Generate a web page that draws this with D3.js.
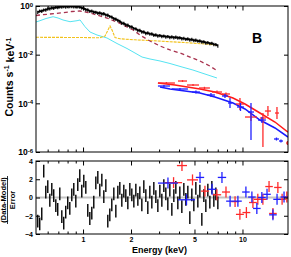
<!DOCTYPE html>
<html>
<head>
<meta charset="utf-8">
<script src="https://cdn.jsdelivr.net/npm/d3@7"></script>
<style>
body { margin: 0; background: #fff; }
text { font-family: "Liberation Sans", Arial, sans-serif; }
</style>
</head>
<body>
<svg width="291" height="257"></svg>
<script>
// ---- data ----
// black spectrum bins (keV) and counts
var binE = [0.520,0.535,0.551,0.567,0.584,0.601,0.619,0.637,0.655,0.675,
  0.694,0.715,0.736,0.757,0.779,0.802,0.826,0.850,0.875,0.901,
  0.927,0.954,0.982,1.011,1.041,1.071,1.103,1.135,1.168,1.203,
  1.238,1.274,1.312,1.350,1.390,1.430,1.472,1.515,1.560,1.606,
  1.653,1.701,1.751,1.802,1.855,1.910,1.966,2.023,2.083,2.144,
  2.207,2.271,2.338,2.406,2.477,2.549,2.624,2.701,2.780,2.862,
  2.946,3.032,3.121,3.212,3.306,3.403,3.503,3.606,3.711,3.820,
  3.932,4.047,4.166,4.288,4.414,4.543,4.676,4.813,4.954,5.100,
  5.249,5.403,5.561,5.724,5.892,6.065,6.243,6.426,6.614,6.808,7.008];
var blackV = [0.556,0.623,0.617,0.685,0.691,0.767,0.774,0.843,0.820,0.893,
  0.884,0.945,0.910,0.963,0.927,0.981,0.954,0.972,0.945,0.963,
  0.936,0.918,0.835,0.797,0.711,0.691,0.611,0.623,0.561,0.556,
  0.511,0.520,0.478,0.483,0.427,0.423,0.370,0.353,0.303,0.290,
  0.256,0.237,0.198,0.193,0.167,0.163,0.142,0.138,0.119,0.116,
  0.100,0.0993,0.0871,0.0862,0.0755,0.0784,0.0707,0.0713,0.0637,0.0649,
  0.0590,0.0613,0.0569,0.0585,0.0542,0.0558,0.0517,0.0542,0.0503,0.0527,
  0.0489,0.0498,0.0457,0.0470,0.0432,0.0449,0.0408,0.0424,0.0386,0.0397,
  0.0364,0.0371,0.0334,0.0341,0.0307,0.0316,0.0288,0.0296,0.0264,0.0262,0.0231];
var blackRelErr = 0.16;
var blackRes = [-2.6,-2.9,-1.8,2.9,0.6,1.2,-0.3,0.9,0.2,-0.9,
  -1.3,0.4,-2.1,-2.8,-1.6,-0.6,-1.2,0.3,0.9,-0.4,
  1.4,2.4,0.7,1.8,1.1,-1.4,-2.3,-1.7,-0.5,1.6,
  2.2,0.8,1.9,0.1,1.3,-2.6,-1.9,-0.8,0.4,-1.5,
  0.6,1.0,-0.3,0.7,0.2,-0.6,0.9,0.3,-0.4,0.8,
  -0.2,0.5,-0.8,1.2,0.2,-1.1,0.6,-0.5,1.0,0.1,
  -0.9,0.7,-0.3,1.3,0.4,-0.7,0.8,-1.3,0.2,1.1,
  -0.6,0.5,-1.0,0.9,-0.2,0.6,-2.2,0.3,-0.8,1.0,
  -0.4,0.7,-2.4,0.2,-0.9,0.8,-0.5,1.1,-0.3,0.4,-0.6];
var blackResErr = 0.7;

// model components
var dashE = [0.507,0.537,0.621,0.749,0.853,0.958,1.075,1.224,1.414,1.633,1.887,2.064,2.277,2.63,3.04,3.51,4.06,4.69,5.41,6.25,6.82];
var dashV = [0.407,0.427,0.469,0.531,0.594,0.623,0.541,0.427,0.321,0.22,0.137,0.103,0.064,0.0364,0.0227,0.0156,0.0117,0.0080,0.0055,0.0034,0.00234];
var cyanE = [0.507,0.537,0.586,0.649,0.697,0.749,0.829,0.917,0.958,1.029,1.106,1.224,1.414,1.633,1.887,2.118,2.344,2.63,3.04,3.51,4.18,4.89,5.82,6.92];
var cyanV = [0.22,0.249,0.306,0.363,0.321,0.266,0.226,0.249,0.266,0.141,0.0854,0.0643,0.0484,0.0288,0.0179,0.0117,0.0080,0.00664,0.0055,0.00433,0.00311,0.00234,0.0016,0.0011];
var lineE = [0.507,0.717,0.958,1.278,1.374,1.434,1.477,1.52,1.587,1.706,2.118,2.75,3.51,4.49,5.82,6.92];
var lineV = [0.0517,0.0512,0.0507,0.0493,0.0585,0.103,0.151,0.103,0.0507,0.0449,0.0408,0.0375,0.0341,0.031,0.0274,0.0249];
var redModelE = [2.95,3.77,5.41,6.72,8.72,10.37,12.87,15.99,19.29];
var redModelV = [6.84e-4,5.66e-4,3.88e-4,2.92e-4,1.65e-4,9.4e-5,4.0e-5,1.71e-5,6.6e-6];
var blueModelE = [3.04,3.51,5.41,6.72,8.72,10.37,12.87,15.99,19.29];
var blueModelV = [4.69e-4,3.88e-4,2.66e-4,1.82e-4,1.03e-4,5.85e-5,2.06e-5,9.7e-6,4.13e-6];

// red and blue spectra (hard band)
var redElo = [2.95,3.94,4.49,5.34,6.44,7.44,9.10,10.37,12.87,13.83,15.99,18.74];
var redEhi = [3.77,4.49,5.34,6.25,7.44,8.35,10.22,12.33,14.03,15.09,16.94,19.56];
var redV   = [6.84e-4,8.26e-4,5.66e-4,4.27e-4,2.92e-4,2.42e-4,9.38e-5,2.74e-5,2.49e-5,4.83e-5,4.0e-5,2.34e-6];
var redVlo = [6.22e-4,7.52e-4,5.15e-4,3.80e-4,2.54e-4,2.10e-4,5.32e-5,1.88e-5,1.60e-6,3.01e-5,2.27e-5,1.94e-6];
var redVhi = [7.52e-4,9.10e-4,6.22e-4,4.78e-4,3.37e-4,2.79e-4,1.66e-4,4.0e-5,4.0e-5,7.76e-5,7.06e-5,2.83e-6];
var blueElo = [2.95,3.61,4.82,5.99,7.44,8.11,9.24,10.83,12.51,15.76,16.94];
var blueEhi = [3.51,4.55,5.41,6.72,8.11,8.60,10.22,11.81,14.03,16.94,17.95];
var blueV   = [5.15e-4,3.88e-4,2.92e-4,2.20e-4,2.00e-4,1.03e-4,7.06e-5,4.40e-5,2.06e-5,3.42e-6,2.83e-6];
var blueVlo = [4.69e-4,3.53e-4,2.54e-4,1.82e-4,1.66e-4,6.43e-5,4.83e-5,3.11e-6,1.55e-5,2.96e-6,2.45e-6];
var blueVhi = [5.66e-4,4.27e-4,3.37e-4,2.65e-4,2.42e-4,1.66e-4,1.03e-4,1.03e-4,2.74e-5,3.94e-6,3.26e-6];

// residuals of red and blue
var redResLo = [3.27,3.88,4.49,5.5,6.5,7.44,8.5,9.1,10.0,11.0,11.8,12.7,13.9,14.7,15.8,16.8,18.0];
var redResHi = [4.18,4.49,5.26,6.15,7.35,8.35,9.5,10.2,11.2,12.3,13.2,14.2,15.5,16.4,17.6,18.7,20.0];
var redRes   = [1.63,3.5,1.93,0.7,0.3,0.6,-0.45,-1.85,-1.65,-0.55,-0.2,-0.2,1.2,-1.75,1.1,-0.2,0.05];
var blueResLo = [2.95,3.94,5.1,6.07,7.0,7.9,8.85,9.95,10.85,11.65,12.5,13.5,14.7,15.6,17.3];
var blueResHi = [3.94,5.04,5.75,6.84,7.9,8.85,9.9,11.1,12.1,13.0,14.0,15.05,16.4,17.4,19.2];
var blueRes   = [1.58,-0.25,2.2,0.9,2.2,-0.4,-0.4,0.6,0.05,-1.2,0,0.35,-1.9,-0.2,0.05];
var colResErr = 0.6;

var xMajor = [1, 2, 5, 10];
var xMinor = [0.6,0.7,0.8,0.9,3,4,6,7,8,9];
var yTopTicks = [1, 1e-2, 1e-4, 1e-6];
var yTopExp = ["0", "-2", "-4", "-6"];
var yBotTicks = [-4, -2, 0, 2, 4];

// ---- layout ----
var L = 36, R = 288, T1 = 6, B1 = 152, T2 = 161, B2 = 234;
var svg = d3.select("svg");

var x = d3.scaleLog().domain([0.507, 19.3]).range([L, R]);
var y1 = d3.scaleLog().domain([1e-6, 1]).range([B1, T1]);
var y2 = d3.scaleLinear().domain([-4, 4]).range([B2, T2]);

svg.append("clipPath").attr("id", "c1").append("rect")
  .attr("x", L).attr("y", T1).attr("width", R - L).attr("height", B1 - T1);
svg.append("clipPath").attr("id", "c2").append("rect")
  .attr("x", L).attr("y", T2).attr("width", R - L).attr("height", B2 - T2);

var gTop = svg.append("g").attr("clip-path", "url(#c1)");
var gBot = svg.append("g").attr("clip-path", "url(#c2)");

function line(E, V, ys) {
  return d3.line().x(function(d, i) { return x(E[i]); })
    .y(function(d, i) { return ys(V[i]); })(E);
}

// model components
gTop.append("path").attr("d", line(cyanE, cyanV, y1))
  .attr("fill", "none").attr("stroke", "#55e4f2").attr("stroke-width", 1);
gTop.append("path").attr("d", line(lineE, lineV, y1))
  .attr("fill", "none").attr("stroke", "#f2c21c").attr("stroke-width", 1.1)
  .attr("stroke-dasharray", "3,1");
gTop.append("path").attr("d", line(dashE, dashV, y1))
  .attr("fill", "none").attr("stroke", "#a8324e").attr("stroke-width", 1.3)
  .attr("stroke-dasharray", "4,3");

// black spectrum
var blk = gTop.append("g").attr("stroke", "#000");
blk.append("path").attr("d", line(binE, blackV, y1))
  .attr("fill", "none").attr("stroke-width", 1.7);
blk.selectAll("line.e").data(binE).enter().append("line")
  .attr("x1", function(d) { return x(d); }).attr("x2", function(d) { return x(d); })
  .attr("y1", function(d, i) { return y1(blackV[i] * (1 + blackRelErr)); })
  .attr("y2", function(d, i) { return y1(blackV[i] * (1 - blackRelErr)); })
  .attr("stroke-width", 1.1);

// colored spectra with crosses
function crosses(g, col, Elo, Ehi, V, Vlo, Vhi, ys, w) {
  var s = g.append("g").attr("stroke", col).attr("stroke-width", w);
  Elo.forEach(function(e, i) {
    var xc = Math.sqrt(Elo[i] * Ehi[i]);
    s.append("line").attr("x1", x(Elo[i])).attr("x2", x(Ehi[i]))
      .attr("y1", ys(V[i])).attr("y2", ys(V[i]));
    s.append("line").attr("x1", x(xc)).attr("x2", x(xc))
      .attr("y1", ys(Vlo[i])).attr("y2", ys(Vhi[i]));
  });
}
gTop.append("path").attr("d", line(redModelE, redModelV, y1))
  .attr("fill", "none").attr("stroke", "#ff1a1a").attr("stroke-width", 1.5);
gTop.append("path").attr("d", line(blueModelE, blueModelV, y1))
  .attr("fill", "none").attr("stroke", "#1a1aff").attr("stroke-width", 1.5);
crosses(gTop, "#ff2a2a", redElo, redEhi, redV, redVlo, redVhi, y1, 1.3);
crosses(gTop, "#2020ff", blueElo, blueEhi, blueV, blueVlo, blueVhi, y1, 1.3);

// residuals
gBot.append("line").attr("x1", L).attr("x2", R).attr("y1", y2(0)).attr("y2", y2(0))
  .attr("stroke", "#c4c4c4").attr("stroke-width", 2);
gBot.append("g").attr("stroke", "#000").selectAll("line").data(binE).enter().append("line")
  .attr("x1", function(d) { return x(d); }).attr("x2", function(d) { return x(d); })
  .attr("y1", function(d, i) { return y2(blackRes[i] + blackResErr); })
  .attr("y2", function(d, i) { return y2(blackRes[i] - blackResErr); })
  .attr("stroke-width", 1.4);
function resCross(col, lo, hi, v) {
  crosses(gBot, col, lo, hi, v,
    v.map(function(d) { return d - colResErr; }),
    v.map(function(d) { return d + colResErr; }), y2, 1.3);
}
resCross("#ff2a2a", redResLo, redResHi, redRes);
resCross("#2020ff", blueResLo, blueResHi, blueRes);

// ---- axes ----
function frame(t, b) {
  svg.append("rect").attr("x", L).attr("y", t).attr("width", R - L).attr("height", b - t)
    .attr("fill", "none").attr("stroke", "#000").attr("stroke-width", 1);
}
function xTicks(t, b, labels) {
  [[xMinor, 2.5], [xMajor, 4.5]].forEach(function(p) {
    svg.append("g").attr("transform", "translate(0," + b + ")")
      .call(d3.axisBottom(x).tickValues(p[0]).tickSize(-p[1])
        .tickFormat(labels && p[0] === xMajor ? d3.format("d") : "").tickPadding(3.5));
    svg.append("g").attr("transform", "translate(0," + t + ")")
      .call(d3.axisTop(x).tickValues(p[0]).tickSize(-p[1]).tickFormat(""));
  });
}
frame(T1, B1);
frame(T2, B2);
xTicks(T1, B1, false);
xTicks(T2, B2, true);

var ax = svg.append("g").attr("transform", "translate(" + L + ",0)")
  .call(d3.axisLeft(y1).tickValues(yTopTicks).tickSize(-4).tickPadding(3)
    .tickFormat(function() { return "10"; }));
ax.selectAll(".tick text").append("tspan").attr("dy", "-0.45em").attr("font-size", 6)
  .text(function(d, i) { return yTopExp[i]; });
svg.append("g").attr("transform", "translate(" + R + ",0)")
  .call(d3.axisRight(y1).tickValues(yTopTicks).tickSize(-4).tickFormat(""));
svg.append("g").attr("transform", "translate(" + L + ",0)")
  .call(d3.axisLeft(y2).tickValues(yBotTicks).tickSize(-4).tickPadding(3));
svg.append("g").attr("transform", "translate(" + R + ",0)")
  .call(d3.axisRight(y2).tickValues(yBotTicks).tickSize(-4).tickFormat(""));

svg.selectAll(".domain").remove();
svg.selectAll(".tick line").attr("stroke", "#000");
svg.selectAll(".tick text").attr("font-family", "Liberation Sans, Arial, sans-serif")
  .attr("font-weight", "bold").attr("fill", "#000").attr("font-size", 7);
ax.selectAll(".tick text").attr("font-size", 8.5);

// ---- titles ----
var yl = svg.append("text").attr("transform", "translate(12.5,77) rotate(-90)")
  .attr("text-anchor", "middle").attr("font-size", 10.5).attr("font-weight", "bold");
yl.append("tspan").text("Counts s");
yl.append("tspan").attr("dy", "-0.45em").attr("font-size", 7).text("-1");
yl.append("tspan").attr("dy", "0.45em").text(" keV");
yl.append("tspan").attr("dy", "-0.45em").attr("font-size", 7).text("-1");

svg.append("text").attr("transform", "translate(6,200) rotate(-90)")
  .attr("text-anchor", "middle").attr("font-size", 7.5).attr("font-weight", "bold")
  .text("(Data-Model)");
svg.append("line").attr("x1", 7.5).attr("x2", 7.5).attr("y1", 176).attr("y2", 224)
  .attr("stroke", "#000").attr("stroke-width", 0.8);
svg.append("text").attr("transform", "translate(14.5,200) rotate(-90)")
  .attr("text-anchor", "middle").attr("font-size", 7.5).attr("font-weight", "bold")
  .text("Error");

svg.append("text").attr("x", 159.5).attr("y", 253).attr("text-anchor", "middle")
  .attr("font-size", 9).attr("font-weight", "bold").text("Energy (keV)");

svg.append("text").attr("x", 257).attr("y", 43).attr("text-anchor", "middle")
  .attr("font-size", 14).attr("font-weight", "bold").text("B");
</script>
</body>
</html>
